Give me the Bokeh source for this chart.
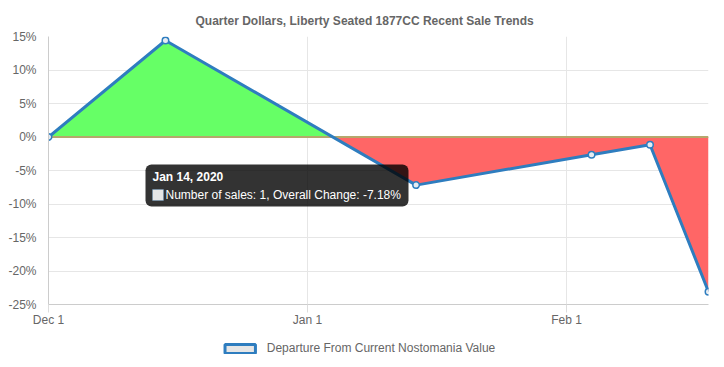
import numpy as np
import pandas as pd
from bokeh.plotting import figure
from bokeh.layouts import column
from bokeh.models import (Range1d, FixedTicker, DatetimeTickFormatter, PrintfTickFormatter,
                          BoxAnnotation, Label, Legend, LegendItem)
from bokeh.embed import file_html
from bokeh.resources import INLINE

# ---------------- data ----------------
chart_title = "Quarter Dollars, Liberty Seated 1877CC Recent Sale Trends"
sale_dates = ["2019-12-01", "2019-12-15", "2020-01-14", "2020-02-04", "2020-02-11", "2020-02-18"]
overall_change = [0.0, 14.4, -7.18, -2.64, -1.15, -23.1]
x_tick_dates = ["2019-12-01", "2020-01-01", "2020-02-01"]
y_ticks = [-25, -20, -15, -10, -5, 0, 5, 10, 15]
series_label = "Departure From Current Nostomania Value"
tooltip_title = "Jan 14, 2020"
tooltip_body = "Number of sales: 1, Overall Change: -7.18%"

FONT = "Liberation Sans"
GREY = "#666666"
BLUE = "#2e7dbf"


def ms(d):
    return pd.Timestamp(d).value / 1e6


xs = [ms(d) for d in sale_dates]
ys = overall_change

# split the area at zero crossings so it can be coloured above / below zero
fx, fy = [xs[0]], [ys[0]]
for i in range(1, len(xs)):
    x0, y0, x1, y1 = xs[i - 1], ys[i - 1], xs[i], ys[i]
    if y0 * y1 < 0:
        fx.append(x0 + (0 - y0) * (x1 - x0) / (y1 - y0))
        fy.append(0.0)
    fx.append(x1)
    fy.append(y1)
fx = np.array(fx)
fy = np.array(fy)
pos = np.maximum(fy, 0)
neg = np.minimum(fy, 0)
zeros = np.zeros_like(fy)

p = figure(frame_width=660, frame_height=268, x_axis_type="datetime", output_backend="svg",
           toolbar_location=None,
           x_range=Range1d(xs[0], xs[-1]), y_range=Range1d(min(y_ticks), max(y_ticks)),
           min_border_left=48, min_border_right=8, min_border_top=36, min_border_bottom=30)
p.outline_line_color = None
p.background_fill_color = "white"
p.border_fill_color = "white"

p.title.text = chart_title
p.title.align = "left"
p.title.offset = 147
p.title.standoff = 17
p.title.text_font = FONT
p.title.text_font_size = "12px"
p.title.text_font_style = "bold"
p.title.text_color = GREY

# fills
p.varea(x=fx, y1=zeros, y2=pos, fill_color="#66ff66", fill_alpha=1.0)
p.varea(x=fx, y1=zeros, y2=neg, fill_color="#ff6666", fill_alpha=1.0)
p.line(x=[xs[0], xs[-1]], y=[0, 0], line_color="#b5a76c", line_width=2)

# series
p.line(xs, ys, line_color=BLUE, line_width=3)
p.scatter(xs, ys, size=6.5, fill_color="#e6ecf2", line_color=BLUE, line_width=1.5)

# axes
p.xaxis.ticker = FixedTicker(ticks=[ms(d) for d in x_tick_dates])
fmt = "%b %-d"
p.xaxis.formatter = DatetimeTickFormatter(milliseconds=fmt, seconds=fmt, minsec=fmt, minutes=fmt,
                                          hourmin=fmt, hours=fmt, days=fmt, months=fmt, years=fmt)
p.yaxis.ticker = FixedTicker(ticks=y_ticks)
p.yaxis.formatter = PrintfTickFormatter(format="%d%%")

for ax in (p.xaxis[0], p.yaxis[0]):
    ax.major_label_text_font = FONT
    ax.major_label_text_font_size = "12px"
    ax.major_label_text_color = GREY
    ax.axis_line_color = "#cccccc"
    ax.minor_tick_line_color = None
    ax.major_tick_in = 0

p.xaxis.major_tick_out = 8
p.xaxis.major_tick_line_color = "#dddddd"
p.xaxis.major_label_standoff = 0
p.yaxis.major_tick_out = 0
p.yaxis.major_tick_line_color = None
p.yaxis.major_label_standoff = 12

p.xgrid.grid_line_color = "#e6e6e6"
p.ygrid.grid_line_color = "#e6e6e6"

# tooltip (frame screen coordinates)
p.add_layout(BoxAnnotation(left=97, right=360, bottom=98, top=140,
                           left_units="screen", right_units="screen",
                           bottom_units="screen", top_units="screen",
                           fill_color="black", fill_alpha=0.8, line_color=None,
                           border_radius=6, level="overlay"))
p.add_layout(BoxAnnotation(left=104, right=115, bottom=104, top=115,
                           left_units="screen", right_units="screen",
                           bottom_units="screen", top_units="screen",
                           fill_color="#e6e6e6", fill_alpha=1.0, line_color="#5b9bd5",
                           line_width=1, level="overlay"))
p.add_layout(Label(x=104, y=128, x_units="screen", y_units="screen", text=tooltip_title,
                   text_font=FONT, text_font_size="12px", text_font_style="bold",
                   text_color="white", text_baseline="middle", level="overlay"))
p.add_layout(Label(x=117, y=110, x_units="screen", y_units="screen", text=tooltip_body,
                   text_font=FONT, text_font_size="12px",
                   text_color="white", text_baseline="middle", level="overlay"))

# legend strip (separate small figure beneath)
lg = figure(frame_width=716, frame_height=28, output_backend="svg", toolbar_location=None,
            x_axis_location=None, y_axis_location=None,
            min_border_left=0, min_border_right=0, min_border_top=0, min_border_bottom=0,
            x_range=Range1d(0, 1), y_range=Range1d(0, 1))
lg.outline_line_color = None
lg.xgrid.visible = False
lg.ygrid.visible = False
# legend-only proxy glyph, kept outside the visible range of the strip
dummy = lg.quad(left=[5], right=[6], top=[6], bottom=[5], fill_color="#e6e6e6",
                line_color=BLUE, line_width=3)
legend = Legend(items=[LegendItem(label=series_label, renderers=[dummy])],
                location="center", orientation="horizontal",
                border_line_color=None, background_fill_alpha=0,
                glyph_width=38, glyph_height=11, label_height=14,
                label_text_font=FONT, label_text_font_size="12px", label_text_color=GREY,
                padding=0, margin=0, spacing=0, label_standoff=8)
lg.add_layout(legend, "center")

layout = column(p, lg, spacing=0)
open("out.html", "w").write(file_html(layout, INLINE))
